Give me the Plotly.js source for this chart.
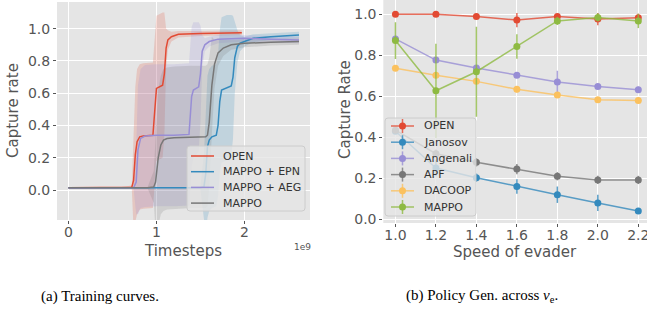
<!DOCTYPE html>
<html>
<head>
<meta charset="utf-8">
<script src="https://cdn.plot.ly/plotly-3.0.1.min.js"></script>
<style>html,body{margin:0;padding:0;background:#fff;}#chart{width:647px;height:311px;}</style>
</head>
<body>
<div id="chart"></div>
<script>
// ---------- (a) Training curves: timesteps in units of 1e9 ----------
const openT = [0, 0.3, 0.6, 0.72, 0.74, 0.76, 0.78, 0.81, 0.85, 0.96, 0.975, 0.99, 1.0, 1.07, 1.09, 1.11, 1.13, 1.17, 1.25, 1.5, 1.75, 1.97];
const openY = [0.015, 0.015, 0.015, 0.018, 0.06, 0.22, 0.3, 0.33, 0.335, 0.34, 0.45, 0.6, 0.63, 0.65, 0.72, 0.88, 0.93, 0.95, 0.965, 0.97, 0.972, 0.975];
const openS = [0.005, 0.005, 0.005, 0.01, 0.3, 0.42, 0.45, 0.45, 0.45, 0.45, 0.45, 0.45, 0.45, 0.45, 0.38, 0.12, 0.06, 0.03, 0.02, 0.015, 0.015, 0.015];

const epnT = [0, 0.5, 1.0, 1.5, 1.54, 1.56, 1.58, 1.6, 1.63, 1.68, 1.70, 1.72, 1.74, 1.8, 1.85, 1.87, 1.89, 1.92, 1.95, 2.0, 2.1, 2.3, 2.62];
const epnY = [0.015, 0.015, 0.015, 0.015, 0.02, 0.1, 0.27, 0.31, 0.33, 0.34, 0.4, 0.55, 0.62, 0.635, 0.645, 0.7, 0.82, 0.89, 0.91, 0.92, 0.94, 0.95, 0.96];
const epnS = [0.005, 0.005, 0.005, 0.005, 0.2, 0.38, 0.44, 0.44, 0.44, 0.44, 0.44, 0.44, 0.45, 0.45, 0.44, 0.38, 0.22, 0.1, 0.05, 0.03, 0.025, 0.02, 0.02];

const aegT = [0, 0.3, 0.6, 0.74, 0.77, 0.79, 0.82, 0.87, 1.0, 1.2, 1.37, 1.385, 1.40, 1.42, 1.48, 1.5, 1.52, 1.55, 1.6, 1.7, 2.0, 2.3, 2.62];
const aegY = [0.015, 0.015, 0.015, 0.015, 0.05, 0.25, 0.32, 0.335, 0.34, 0.34, 0.345, 0.45, 0.58, 0.62, 0.64, 0.72, 0.86, 0.9, 0.92, 0.935, 0.94, 0.935, 0.93];
const aegS = [0.005, 0.005, 0.005, 0.005, 0.2, 0.4, 0.43, 0.44, 0.44, 0.44, 0.44, 0.43, 0.43, 0.42, 0.4, 0.3, 0.1, 0.04, 0.03, 0.025, 0.02, 0.02, 0.02];

const mapT = [0, 0.3, 0.6, 0.9, 0.97, 0.99, 1.02, 1.05, 1.08, 1.12, 1.2, 1.4, 1.56, 1.58, 1.60, 1.63, 1.66, 1.70, 1.76, 1.85, 2.0, 2.3, 2.62];
const mapY = [0.015, 0.015, 0.015, 0.015, 0.02, 0.05, 0.2, 0.28, 0.31, 0.32, 0.325, 0.33, 0.33, 0.34, 0.42, 0.65, 0.78, 0.85, 0.88, 0.9, 0.91, 0.915, 0.92];
const mapS = [0.005, 0.005, 0.005, 0.005, 0.1, 0.3, 0.42, 0.43, 0.44, 0.44, 0.44, 0.44, 0.44, 0.44, 0.4, 0.3, 0.15, 0.08, 0.05, 0.03, 0.025, 0.02, 0.02];

const trainNames = ['OPEN', 'MAPPO + EPN', 'MAPPO + AEG', 'MAPPO'];

// ---------- (b) Policy generalisation across evader speed ----------
const speeds = [1.0, 1.2, 1.4, 1.6, 1.8, 2.0, 2.2];
const openRate = [1.0, 1.0, 0.99, 0.972, 0.99, 0.977, 0.983];
const openErr = [0.005, 0.005, 0.008, 0.035, 0.01, 0.03, 0.02];
const janosovRate = [0.43, 0.25, 0.203, 0.16, 0.12, 0.08, 0.04];
const janosovErr = [0.01, 0.04, 0.02, 0.035, 0.04, 0.04, 0.01];
const angenaliRate = [0.88, 0.777, 0.738, 0.703, 0.67, 0.648, 0.632];
const angenaliErr = [0.012, 0.012, 0.015, 0.012, 0.055, 0.012, 0.015];
const apfRate = [0.435, 0.32, 0.278, 0.245, 0.21, 0.192, 0.192];
const apfErr = [0.015, 0.02, 0.02, 0.025, 0.02, 0.02, 0.02];
const dacoopRate = [0.737, 0.703, 0.673, 0.634, 0.607, 0.583, 0.58];
const dacoopErr = [0.01, 0.01, 0.012, 0.015, 0.012, 0.01, 0.01];
const mappoRate = [0.872, 0.627, 0.72, 0.843, 0.968, 0.985, 0.968];
const mappoErr = [0.09, 0.23, 0.22, 0.06, 0.02, 0.02, 0.035];
const genNames = ['OPEN', 'Janosov', 'Angenali', 'APF', 'DACOOP', 'MAPPO'];

// ---------- styling ----------
const C = {red: [226,74,51], blue: [52,138,189], purple: [152,142,213], gray: [119,119,119], yellow: [251,193,94], green: [142,186,66]};
const rgba = (c, a) => `rgba(${c[0]},${c[1]},${c[2]},${a})`;
const trainColors = [C.red, C.blue, C.purple, C.gray];
const genColors = [C.red, C.blue, C.purple, C.gray, C.yellow, C.green];

const traces = [];
const trainSets = [
  [openT, openY, openS],
  [epnT, epnY, epnS],
  [aegT, aegY, aegS],
  [mapT, mapY, mapS]
];
// std bands
trainSets.forEach(([t, y, s], i) => {
  const c = trainColors[i];
  const up = y.map((v, k) => v + s[k]);
  const lo = y.map((v, k) => v - s[k]);
  traces.push({
    x: t.concat(t.slice().reverse()),
    y: up.concat(lo.slice().reverse()),
    type: 'scatter', mode: 'lines', fill: 'toself',
    fillcolor: rgba(c, 0.2), line: {width: 0, color: rgba(c, 0)},
    hoverinfo: 'skip', showlegend: false, xaxis: 'x', yaxis: 'y'
  });
});
// mean curves
trainSets.forEach(([t, y], i) => {
  traces.push({
    x: t, y: y, type: 'scatter', mode: 'lines', name: trainNames[i], showlegend: false,
    line: {color: rgba(trainColors[i], 1), width: 1.5}, xaxis: 'x', yaxis: 'y'
  });
});

const genSets = [
  [openRate, openErr], [janosovRate, janosovErr], [angenaliRate, angenaliErr],
  [apfRate, apfErr], [dacoopRate, dacoopErr], [mappoRate, mappoErr]
];
genSets.forEach(([y, e], i) => {
  const c = genColors[i];
  traces.push({
    x: speeds, y: y, type: 'scatter', mode: 'lines+markers', name: genNames[i], showlegend: false,
    line: {color: rgba(c, 0.8), width: 1.5},
    marker: {color: rgba(c, 1), size: 7},
    error_y: {type: 'data', array: e, visible: true, color: rgba(c, 0.8), thickness: 1.5, width: 0},
    xaxis: 'x2', yaxis: 'y2'
  });
});

const W = 647, H = 311;
const px = v => v / W, py = v => 1 - v / H;
const axisCommon = {
  showgrid: true, gridcolor: '#ffffff', gridwidth: 1, zeroline: false, showline: false,
  ticks: 'outside', ticklen: 3, tickcolor: '#555555', tickwidth: 1,
  tickfont: {family: 'DejaVu Sans', size: 14, color: '#555555'}
};

// ---------- legends (drawn as shapes + text, matplotlib-like spacing) ----------
const shapes = [];
const annotations = [];
function roundedBox(x0, y0, x1, y1, r) {
  const p = (x, y) => `${px(x)},${py(y)}`;
  return `M ${p(x0 + r, y0)} L ${p(x1 - r, y0)} Q ${p(x1, y0)} ${p(x1, y0 + r)} L ${p(x1, y1 - r)} Q ${p(x1, y1)} ${p(x1 - r, y1)} L ${p(x0 + r, y1)} Q ${p(x0, y1)} ${p(x0, y1 - r)} L ${p(x0, y0 + r)} Q ${p(x0, y0)} ${p(x0 + r, y0)} Z`;
}
function legendBox(x0, y0, x1, y1) {
  shapes.push({type: 'path', xref: 'paper', yref: 'paper', path: roundedBox(x0, y0, x1, y1, 3),
    fillcolor: 'rgba(229,229,229,0.8)', line: {color: '#cccccc', width: 1}, layer: 'above'});
}
function legendText(x, y, text) {
  annotations.push({text: text, xref: 'paper', yref: 'paper', x: px(x), y: py(y), xanchor: 'left', yanchor: 'middle',
    showarrow: false, font: {family: 'DejaVu Sans', size: 11, color: '#333333'}});
}
// left legend
legendBox(187, 146, 305, 211);
trainNames.forEach((n, i) => {
  const yc = 156 + i * 15.7;
  shapes.push({type: 'line', xref: 'paper', yref: 'paper', x0: px(191), x1: px(214), y0: py(yc), y1: py(yc),
    line: {color: rgba(trainColors[i], 1), width: 1.5}, layer: 'above'});
  legendText(221, yc, n);
});
// right legend
legendBox(385, 118, 476, 216);
genNames.forEach((n, i) => {
  const yc = 126 + i * 16.2;
  const c = genColors[i];
  shapes.push({type: 'line', xref: 'paper', yref: 'paper', x0: px(391), x1: px(414), y0: py(yc), y1: py(yc),
    line: {color: rgba(c, 0.8), width: 1.5}, layer: 'above'});
  shapes.push({type: 'line', xref: 'paper', yref: 'paper', x0: px(402.5), x1: px(402.5), y0: py(yc - 7), y1: py(yc + 7),
    line: {color: rgba(c, 0.8), width: 1.5}, layer: 'above'});
  shapes.push({type: 'circle', xref: 'paper', yref: 'paper', x0: px(399), x1: px(406), y0: py(yc + 3.5), y1: py(yc - 3.5),
    fillcolor: rgba(c, 1), line: {color: rgba(c, 1), width: 0}, layer: 'above'});
  legendText(422, yc, n);
});

const titleFont = {family: 'DejaVu Sans', size: 15, color: '#555555'};
annotations.push(
  {text: 'Capture rate', xref: 'paper', yref: 'paper', x: px(13), y: py(111), textangle: -90, showarrow: false, font: titleFont, xanchor: 'center', yanchor: 'middle'},
  {text: 'Timesteps', xref: 'paper', yref: 'paper', x: px(183), y: py(251), showarrow: false, font: titleFont, xanchor: 'center', yanchor: 'middle'},
  {text: '1e9', xref: 'paper', yref: 'paper', x: px(302), y: py(247), showarrow: false, font: {family: 'DejaVu Sans', size: 9, color: '#555555'}, xanchor: 'center', yanchor: 'middle'},
  {text: 'Capture Rate', xref: 'paper', yref: 'paper', x: px(345), y: py(110), textangle: -90, showarrow: false, font: titleFont, xanchor: 'center', yanchor: 'middle'},
  {text: 'Speed of evader', xref: 'paper', yref: 'paper', x: px(515), y: py(252), showarrow: false, font: titleFont, xanchor: 'center', yanchor: 'middle'},
  {text: '(a) Training curves.', xref: 'paper', yref: 'paper', x: px(100), y: py(296), showarrow: false, font: {family: 'Liberation Serif', size: 15, color: '#000000'}, xanchor: 'center', yanchor: 'middle'},
  {text: '(b) Policy Gen. across <i>v</i><sub>e</sub>.', xref: 'paper', yref: 'paper', x: px(482), y: py(296), showarrow: false, font: {family: 'Liberation Serif', size: 15, color: '#000000'}, xanchor: 'center', yanchor: 'middle'}
);

const layout = {
  width: W, height: H,
  margin: {l: 0, r: 0, t: 0, b: 0},
  paper_bgcolor: '#ffffff', plot_bgcolor: '#E5E5E5',
  font: {family: 'DejaVu Sans', color: '#555555'},
  showlegend: false,
  xaxis: Object.assign({}, axisCommon, {domain: [px(57), px(310)], range: [-0.13, 2.745], tickvals: [0, 1, 2], ticktext: ['0', '1', '2'], anchor: 'y', ticklabelstandoff: -4}),
  yaxis: Object.assign({}, axisCommon, {domain: [py(220), py(2)], range: [-0.185, 1.165], tickvals: [0, 0.2, 0.4, 0.6, 0.8, 1.0], tickformat: '.1f', anchor: 'x'}),
  xaxis2: Object.assign({}, axisCommon, {domain: [px(383.3), 1], range: [0.94, 2.243], tickvals: speeds, tickformat: '.1f', anchor: 'y2', ticklabeloverflow: 'allow', ticklabelstandoff: -4}),
  yaxis2: Object.assign({}, axisCommon, {domain: [py(223), 1], range: [-0.018, 1.07], tickvals: [0, 0.2, 0.4, 0.6, 0.8, 1.0], tickformat: '.1f', anchor: 'x2'}),
  shapes: shapes,
  annotations: annotations
};

Plotly.newPlot('chart', traces, layout, {displayModeBar: false, staticPlot: true});
</script>
</body>
</html>
